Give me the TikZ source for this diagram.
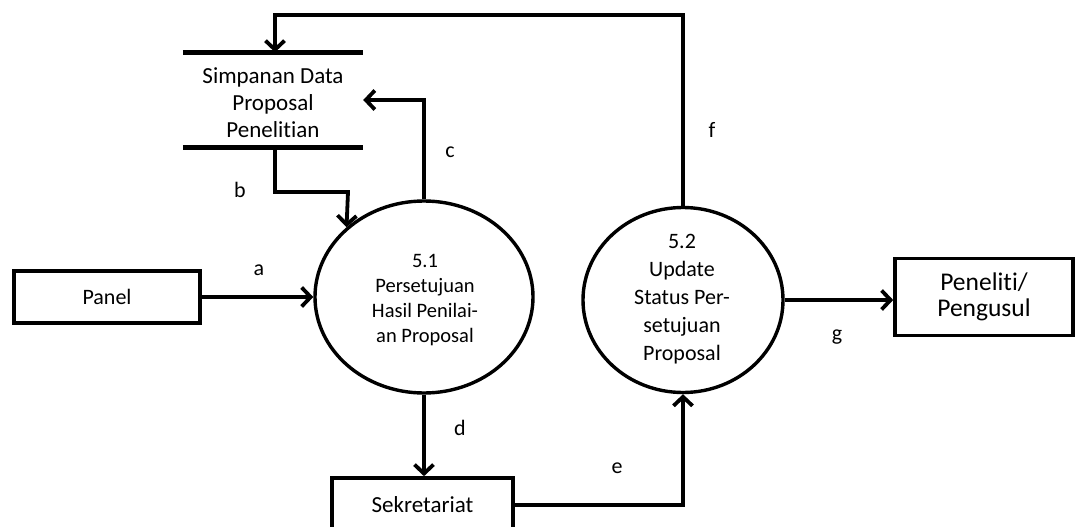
\documentclass[tikz,border=0pt]{standalone}
\usepackage{fontspec}
\setmainfont{Carlito}[Ligatures=NoCommon]
\usetikzlibrary{arrows.meta,shapes.geometric}
\begin{document}
\begin{tikzpicture}[x=1pt,y=-1pt,
  entity/.style={draw, rectangle, line width=3.6pt, inner sep=0pt, align=center},
  proc/.style={draw, ellipse, line width=3.4pt, inner sep=0pt},
  storebox/.style={inner sep=0pt, minimum width=180pt, minimum height=95pt},
  storeline/.style={line width=4.6pt},
  flow/.style={line width=3.8pt, -{Straight Barb[length=9pt,width=19pt]}},
  lbl/.style={inner sep=0pt, font=\fontsize{22}{26}\selectfont},
  txt/.style={align=center, inner sep=0pt}]

\useasboundingbox (0,0) rectangle (1076,527);

% external entities
\node[entity, minimum width=186pt, minimum height=52pt, font=\fontsize{22}{26}\selectfont] (panel) at (107,297) {Panel};
\node[entity, minimum width=178pt, minimum height=77pt, font=\fontsize{25.5}{26}\selectfont] (pen) at (984,297) {Peneliti/\\Pengusul};
\node[entity, minimum width=181pt, minimum height=54pt, font=\fontsize{23}{26}\selectfont] (sek) at (422.5,505) {Sekretariat};

% processes
\node[proc, minimum width=218pt, minimum height=192pt] (p51) at (424,297) {};
\node[txt, font=\fontsize{20.5}{25}\selectfont] (p51t) at (425,300) {5.1\\Persetujuan\\Hasil Penilai-\\an Proposal};
\node[proc, minimum width=200pt, minimum height=185pt] (p52) at (683,300) {};
\node[txt, font=\fontsize{22}{28}\selectfont] (p52t) at (682,299) {5.2\\Update\\Status Per-\\setujuan\\Proposal};

% data store
\node[storebox] (ds) at (273,100) {};
\draw[storeline] (ds.north west) -- (ds.north east);
\draw[storeline] (ds.south west) -- (ds.south east);
\node[txt, font=\fontsize{23}{27}\selectfont] (dst) at (273,103) {Simpanan Data\\Proposal\\Penelitian};

% data flows
\coordinate (ftop) at (275,15);
\coordinate (bturn) at (348,192);
\draw[flow] (panel) -- (p51);
\draw[flow] (p52.north) |- (ftop) -- (ftop |- ds.north);
\draw[flow] (p51.north) |- (ds.east);
\draw[flow] ([xshift=2pt]ds.south) |- (bturn) -- (p51.138);
\draw[flow] (p51.south) -- (p51.south |- sek.north);
\draw[flow] (sek.east) -| (p52.south);
\draw[flow] (p52.east) -- (p52.east -| pen.west);

% flow labels
\node[lbl] (la) at (259,270) {a};
\node[lbl] (lb) at (240,190) {b};
\node[lbl] (lc) at (450,152) {c};
\node[lbl] (ld) at (460,428) {d};
\node[lbl] (le) at (617,468) {e};
\node[lbl] (lf) at (712,130) {f};
\node[lbl] (lg) at (837,337) {g};
\end{tikzpicture}
\end{document}
